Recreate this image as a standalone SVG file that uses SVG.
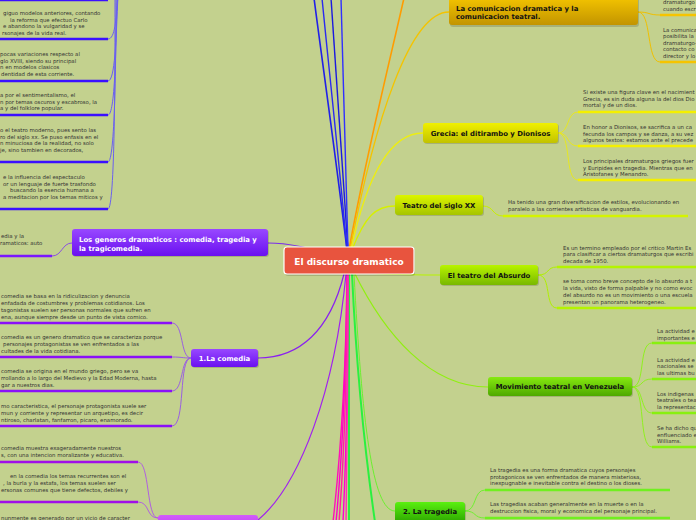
<svg xmlns="http://www.w3.org/2000/svg" width="696" height="520" viewBox="0 0 696 520">
<defs>
<linearGradient id="gGold" x1="0" y1="0" x2="0" y2="1"><stop offset="0" stop-color="#f8c800"/><stop offset="1" stop-color="#c29400"/></linearGradient>
<linearGradient id="gYel" x1="0" y1="0" x2="0" y2="1"><stop offset="0" stop-color="#f0f000"/><stop offset="1" stop-color="#c2c200"/></linearGradient>
<linearGradient id="gYG" x1="0" y1="0" x2="0" y2="1"><stop offset="0" stop-color="#dcf500"/><stop offset="1" stop-color="#a6c400"/></linearGradient>
<linearGradient id="gLime" x1="0" y1="0" x2="0" y2="1"><stop offset="0" stop-color="#b8f400"/><stop offset="1" stop-color="#78b800"/></linearGradient>
<linearGradient id="gGrn" x1="0" y1="0" x2="0" y2="1"><stop offset="0" stop-color="#86ea10"/><stop offset="1" stop-color="#4ea800"/></linearGradient>
<linearGradient id="gGrn2" x1="0" y1="0" x2="0" y2="1"><stop offset="0" stop-color="#5af010"/><stop offset="1" stop-color="#2ea800"/></linearGradient>
<linearGradient id="gPur" x1="0" y1="0" x2="0" y2="1"><stop offset="0" stop-color="#9848ff"/><stop offset="1" stop-color="#6a10f0"/></linearGradient>
<linearGradient id="gMag" x1="0" y1="0" x2="0" y2="1"><stop offset="0" stop-color="#d25cfa"/><stop offset="1" stop-color="#b030f0"/></linearGradient>
</defs>
<style>
.t{font-family:"DejaVu Sans",Verdana,sans-serif;font-size:5.4px;fill:#333}
.b{font-family:"DejaVu Sans",Verdana,sans-serif;font-size:6.9px;font-weight:bold;fill:#111}
.w{font-family:"DejaVu Sans",Verdana,sans-serif;font-size:6.9px;font-weight:bold;fill:#fff}
.c{fill:none}
.sh{fill:#000;opacity:0.15}
</style>
<rect width="696" height="520" fill="#c3d18e"/>

<g id="connectors" class="c">
<path d="M347 250 C335 150 322 60 314 -2" stroke="#2020e8" stroke-width="1.6"/>
<path d="M347 250 C338 150 328 60 322 -2" stroke="#2a2af0" stroke-width="1.4"/>
<path d="M348 250 C342 150 335 60 331 -2" stroke="#1a1ae0" stroke-width="1.4"/>
<path d="M348 250 C346 150 343 60 341 -2" stroke="#3030ff" stroke-width="1.4"/>
<path d="M349 250 C365 160 390 60 404 -2" stroke="#ff9c00" stroke-width="1.6"/>
<path d="M350 250 C375 120 410 12 449 12" stroke="#f4c400" stroke-width="1.3"/>
<path d="M351 250 C368 170 392 133 423 133" stroke="#eeee10" stroke-width="1.3"/>
<path d="M352 250 C365 216 376 206 395 206" stroke="#d6f000" stroke-width="1.3"/>
<path d="M352 272 C380 275 410 275 440 275" stroke="#b8f400" stroke-width="1.2"/>
<path d="M354 272 C385 335 430 387 488 387" stroke="#90f010" stroke-width="1.2"/>
<path d="M354 274 C362 420 372 511 395 511" stroke="#6cf030" stroke-width="1"/>
<path d="M349 274 L349 522" stroke="#2af040" stroke-width="2"/>
<path d="M352 274 C357 380 366 460 375 522" stroke="#2af040" stroke-width="2"/>
<path d="M347 274 C346 380 340 460 333 522" stroke="#ff10b8" stroke-width="1.4"/>
<path d="M347 274 C346 380 342 460 336 522" stroke="#ff00c8" stroke-width="1.4"/>
<path d="M347 274 C347 380 344 460 339 522" stroke="#ff20a0" stroke-width="1.4"/>
<path d="M348 274 C348 380 346 460 343 522" stroke="#ff00d0" stroke-width="1.4"/>
<path d="M348 274 C348 380 347 460 346 522" stroke="#ff30b0" stroke-width="1.4"/>
<path d="M346 274 C335 390 300 485 258 520" stroke="#a020f0" stroke-width="1.2"/>
<path d="M344 274 C330 330 300 358 258 358" stroke="#8a20f0" stroke-width="1.2"/>
<path d="M348 260 C320 250 290 243 268 243" stroke="#7a30e8" stroke-width="1.2"/>
<path d="M108 39 C115 39 116 20 118 -5" stroke="#6a60f0" stroke-width="1"/>
<path d="M108 81 C115 81 116 40 118 -5" stroke="#6a60f0" stroke-width="1"/>
<path d="M108 115 C115 115 116 50 117 -5" stroke="#6a60f0" stroke-width="1"/>
<path d="M108 162 C115 162 116 60 116 -5" stroke="#6a60f0" stroke-width="1"/>
<path d="M108 209 C115 209 115 70 115 -5" stroke="#6a60f0" stroke-width="1"/>
<path d="M52 256 C62 256 62 243 72 243" stroke="#8a50e0" stroke-width="1"/>
<path d="M172 323 C184 323 180 358 191 358" stroke="#9a60e0" stroke-width="1"/>
<path d="M172 357 C182 357 182 358 191 358" stroke="#9a60e0" stroke-width="1"/>
<path d="M172 391 C184 391 180 358 191 358" stroke="#9a60e0" stroke-width="1"/>
<path d="M172 426 C186 426 178 358 191 358" stroke="#9a60e0" stroke-width="1"/>
<path d="M138 462 C150 462 146 518 158 518" stroke="#b060e0" stroke-width="1"/>
<path d="M138 502 C150 502 146 518 158 518" stroke="#b060e0" stroke-width="1"/>
<path d="M638 12 C650 12 648 15 660 15" stroke="#f0c000" stroke-width="1"/>
<path d="M638 12 C652 12 646 62 660 62" stroke="#f0c000" stroke-width="1"/>
<path d="M558 133 C570 133 566 112 578 112" stroke="#e8e820" stroke-width="1"/>
<path d="M558 133 C570 133 566 146 578 146" stroke="#e8e820" stroke-width="1"/>
<path d="M558 133 C572 133 564 180 578 180" stroke="#e8e820" stroke-width="1"/>
<path d="M483 206 C494 206 492 216 503 216" stroke="#c8f000" stroke-width="1"/>
<path d="M538 275 C550 275 546 267 557 267" stroke="#b0f000" stroke-width="1"/>
<path d="M538 275 C552 275 544 308 557 308" stroke="#b0f000" stroke-width="1"/>
<path d="M632 387 C646 387 638 343 652 343" stroke="#90f020" stroke-width="1"/>
<path d="M632 387 C644 387 640 379 652 379" stroke="#90f020" stroke-width="1"/>
<path d="M632 387 C644 387 640 413 652 413" stroke="#90f020" stroke-width="1"/>
<path d="M632 387 C646 387 638 447 652 447" stroke="#90f020" stroke-width="1"/>
<path d="M465 511 C477 511 473 490 485 490" stroke="#70f030" stroke-width="1"/>
<path d="M465 511 C477 511 473 518 485 518" stroke="#70f030" stroke-width="1"/>
</g>

<g id="underlines" class="c" stroke-width="2.6">
<path d="M0 0 H108 M0 39 H108 M0 81 H108 M0 115 H108 M0 162 H108 M0 209 H108" stroke="#3a10ff"/>
<path d="M0 256 H52" stroke="#7a18ff"/>
<path d="M0 323 H172 M0 357 H172 M0 391 H172 M0 426 H172" stroke="#8a10f8"/>
<path d="M0 462 H138 M0 502 H138" stroke="#a010e8"/>
<path d="M660 15 H696 M660 62 H696" stroke="#f6c400"/>
<path d="M578 112 H696 M578 146 H696 M578 180 H696" stroke="#f4f000"/>
<path d="M503 216 H688" stroke="#d4f400"/>
<path d="M557 267 H696 M557 308 H696" stroke="#b4f400"/>
<path d="M652 343 H696 M652 379 H696 M652 413 H696 M652 447 H696" stroke="#88f010"/>
<path d="M485 490 H670 M485 518 H670" stroke="#70f020"/>
</g>

<g id="blue-texts" class="t">
<text x="3" y="15">giguo modelos anteriores, contando</text>
<text x="10" y="21.5">la reforma que efectuo Carlo</text>
<text x="3" y="28">e abandono la vulgaridad y se</text>
<text x="2" y="34.5">rsonajes de la vida real.</text>
<text x="0" y="56">pocas variaciones respecto al</text>
<text x="0" y="62.5">glo XVIII, siendo su principal</text>
<text x="0" y="69">n en modelos clasicos</text>
<text x="1" y="75.5">dentidad de esta corriente.</text>
<text x="0" y="97">a por el sentimentalismo, el</text>
<text x="0" y="103.5">n por temas oscuros y escabroso, la</text>
<text x="0" y="110">a y del folklore popular.</text>
<text x="0" y="132">o el teatro moderno, pues sento las</text>
<text x="0" y="138.5">ro del siglo xx. Se puso enfasis en el</text>
<text x="0" y="145">n minuciosa de la realidad, no solo</text>
<text x="0" y="151.5">je, sino tambien en decorados,</text>
<text x="3" y="179">e la influencia del espectaculo</text>
<text x="3" y="185.5">or un lenguaje de fuerte trasfondo</text>
<text x="10" y="192">buscando la esencia humana a</text>
<text x="3" y="198.5">a meditacion por los temas miticos y</text>
</g>

<g id="generos-child" class="t">
<text x="1" y="238">edia y la</text>
<text x="0" y="244.5">ramaticos: auto</text>
</g>

<g id="comedia-children" class="t">
<text x="1" y="298">comedia se basa en la ridiculizacion y denuncia</text>
<text x="1" y="305">enfadada de costumbres y problemas cotidianos. Los</text>
<text x="1" y="312">tagonistas suelen ser personas normales que sufren en</text>
<text x="1" y="319">ena, aunque siempre desde un punto de vista comico.</text>
<text x="1" y="339">comedia es un genero dramatico que se caracteriza porque</text>
<text x="3" y="346">personajes protagonistas se ven enfrentados a las</text>
<text x="1" y="353">cultades de la vida cotidiana.</text>
<text x="1" y="373">comedia se origina en el mundo griego, pero se va</text>
<text x="1" y="380">rrollando a lo largo del Medievo y la Edad Moderna, hasta</text>
<text x="1" y="387">gar a nuestros dias.</text>
<text x="1" y="408">mo caracteristica, el personaje protagonista suele ser</text>
<text x="1" y="415">mun y corriente y representar un arquetipo, es decir</text>
<text x="1" y="422">ntiroso, charlatan, fanfarron, picaro, enamorado.</text>
</g>

<g id="bottom-children" class="t">
<text x="1" y="450">comedia muestra exageradamente nuestros</text>
<text x="1" y="457">s, con una intencion moralizante y educativa.</text>
<text x="10" y="478">en la comedia los temas recurrentes son el</text>
<text x="3" y="485">, la burla y la estafa, los temas suelen ser</text>
<text x="1" y="492">ersonas comunes que tiene defectos, debiles y</text>
<text x="1" y="519.5">nunmente es generado por un vicio de caracter</text>
</g>

<g id="comunicacion-children" class="t">
<text x="663" y="3.5">dramaturgo</text>
<text x="663" y="11">cuando escr</text>
<text x="663" y="31.5">La comunica</text>
<text x="663" y="38">posibilita la</text>
<text x="663" y="44.5">dramaturgo-</text>
<text x="663" y="51">contacto co</text>
<text x="663" y="58">director y lo</text>
</g>

<g id="grecia-children" class="t">
<text x="583" y="94">Si existe una figura clave en el nacimient</text>
<text x="583" y="100.5">Grecia, es sin duda alguna la del dios Dio</text>
<text x="583" y="107">mortal y de un dios.</text>
<text x="583" y="129">En honor a Dionisos, se sacrifica a un ca</text>
<text x="583" y="135.5">fecunda los campos y se danza, a su vez</text>
<text x="583" y="142">algunos textos: estamos ante el precede</text>
<text x="583" y="163">Los principales dramaturgos griegos fuer</text>
<text x="583" y="169.5">y Euripides en tragedia. Mientras que en</text>
<text x="583" y="176">Aristofanes y Menandro.</text>
</g>

<g id="siglo-child" class="t">
<text x="508" y="204">Ha tenido una gran diversificacion de estilos, evolucionando en</text>
<text x="508" y="211">paralelo a las corrientes artisticas de vanguardia.</text>
</g>

<g id="absurdo-children" class="t">
<text x="563" y="249.5">Es un termino empleado por el critico Martin Es</text>
<text x="563" y="256">para clasificar a ciertos dramaturgos que escribi</text>
<text x="563" y="263">decada de 1950.</text>
<text x="563" y="283">se toma como breve concepto de lo absurdo a t</text>
<text x="563" y="290">la vida, visto de forma palpable y no como evoc</text>
<text x="563" y="297">del absurdo no es un movimiento o una escuela</text>
<text x="563" y="304">presentan un panorama heterogeneo.</text>
</g>

<g id="venezuela-children" class="t">
<text x="657" y="333">La actividad e</text>
<text x="657" y="340">importantes e</text>
<text x="657" y="361.5">La actividad e</text>
<text x="657" y="368">nacionales se</text>
<text x="657" y="374.5">las ultimas bu</text>
<text x="657" y="395.5">Los indigenas</text>
<text x="657" y="402">teatrales o tea</text>
<text x="657" y="408.5">la representac</text>
<text x="657" y="430">Se ha dicho qu</text>
<text x="657" y="436.5">enfluenciado e</text>
<text x="657" y="443">Williams.</text>
</g>

<g id="tragedia-children" class="t">
<text x="490" y="472">La tragedia es una forma dramatica cuyos personajes</text>
<text x="490" y="478.5">protagonicos se ven enfrentados de manera misteriosa,</text>
<text x="490" y="485">inexpugnable e inevitable contra el destino o los dioses.</text>
<text x="490" y="506">Las tragedias acaban generalmente en la muerte o en la</text>
<text x="490" y="513">destruccion fisica, moral y economica del personaje principal.</text>
</g>

<g id="node-comunicacion">
<rect class="sh" x="450" y="-4" width="189" height="31" rx="3"/>
<rect x="449" y="-5" width="189" height="30" rx="3" fill="url(#gGold)"/>
<text class="b" x="456" y="10.5">La comunicacion dramatica y la</text>
<text class="b" x="456" y="18.5">comunicacion teatral.</text>
</g>
<g id="node-grecia">
<rect class="sh" x="424" y="124" width="135" height="20" rx="3"/>
<rect x="423" y="123" width="135" height="20" rx="3" fill="url(#gYel)"/>
<text class="b" x="490.5" y="135.5" text-anchor="middle">Grecia: el ditirambo y Dionisos</text>
</g>
<g id="node-siglo">
<rect class="sh" x="396" y="196" width="88" height="20" rx="3"/>
<rect x="395" y="195" width="88" height="20" rx="3" fill="url(#gYG)"/>
<text class="b" x="439" y="208" text-anchor="middle">Teatro del siglo XX</text>
</g>
<g id="node-absurdo">
<rect class="sh" x="441" y="266" width="98" height="20" rx="3"/>
<rect x="440" y="265" width="98" height="20" rx="3" fill="url(#gLime)"/>
<text class="b" x="489" y="277.5" text-anchor="middle">El teatro del Absurdo</text>
</g>
<g id="node-venezuela">
<rect class="sh" x="489" y="378" width="144" height="19" rx="3"/>
<rect x="488" y="377" width="144" height="19" rx="3" fill="url(#gGrn)"/>
<text class="b" x="560" y="389" text-anchor="middle">Movimiento teatral en Venezuela</text>
</g>
<g id="node-tragedia">
<rect class="sh" x="396" y="503" width="70" height="20" rx="3"/>
<rect x="395" y="502" width="70" height="20" rx="3" fill="url(#gGrn2)"/>
<text class="b" x="430" y="514" text-anchor="middle">2. La tragedia</text>
</g>
<g id="node-generos">
<rect class="sh" x="73" y="230" width="196" height="27" rx="3"/>
<rect x="72" y="229" width="196" height="27" rx="3" fill="url(#gPur)"/>
<text class="w" x="79" y="242">Los generos dramaticos : comedia, tragedia y</text>
<text class="w" x="79" y="250.5">la tragicomedia.</text>
</g>
<g id="node-comedia">
<rect class="sh" x="192" y="350" width="67" height="18" rx="3"/>
<rect x="191" y="349" width="67" height="18" rx="3" fill="url(#gPur)"/>
<text class="w" x="224.5" y="361" text-anchor="middle">1.La comedia</text>
</g>
<g id="node-bottom">
<rect x="158" y="515" width="100" height="20" rx="3" fill="url(#gMag)"/>
</g>
<g id="node-center">
<rect class="sh" x="285" y="248" width="130" height="28" rx="3"/>
<rect x="284" y="247" width="130" height="27" rx="3" fill="#e8543e" stroke="#fff" stroke-width="1.2"/>
<text x="349" y="264.5" text-anchor="middle" font-family="DejaVu Sans, Verdana, sans-serif" font-size="9px" font-weight="bold" fill="#fff">El discurso dramatico</text>
</g>
</svg>
